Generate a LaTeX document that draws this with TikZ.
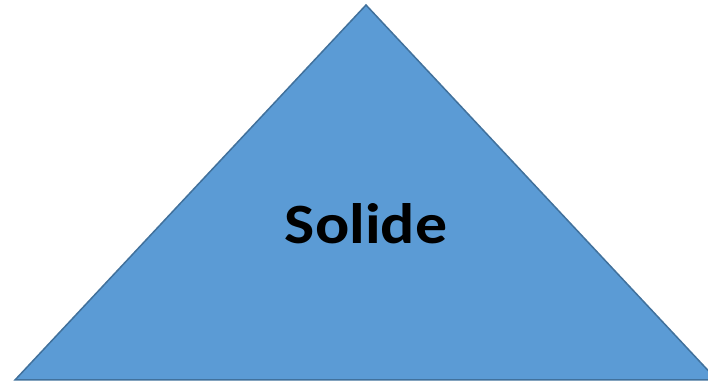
\documentclass[tikz,border=0pt]{standalone}
\usepackage{fontspec}
\setmainfont{Carlito}
\definecolor{fillblue}{HTML}{5B9BD5}
\definecolor{edgeblue}{HTML}{41719C}
\tikzset{tri/.style={fill=fillblue,draw=edgeblue,line width=1.5pt,line join=miter},
lbl/.style={font=\bfseries\fontsize{57}{64}\selectfont,text=black,anchor=base,inner sep=0pt,xscale=1.12}}
\begin{document}
\begin{tikzpicture}[x=1pt,y=1pt]
\useasboundingbox (0,0) rectangle (708,382);
\clip (0,0) rectangle (708,382);
\coordinate (apex) at (366,377);
\coordinate (bl) at (15,2);
\coordinate (br) at (717,2);
\draw[tri] (apex) -- (br) -- (bl) -- cycle;
\node[lbl] (t) at (366,138) {Solide};
\end{tikzpicture}
\end{document}
